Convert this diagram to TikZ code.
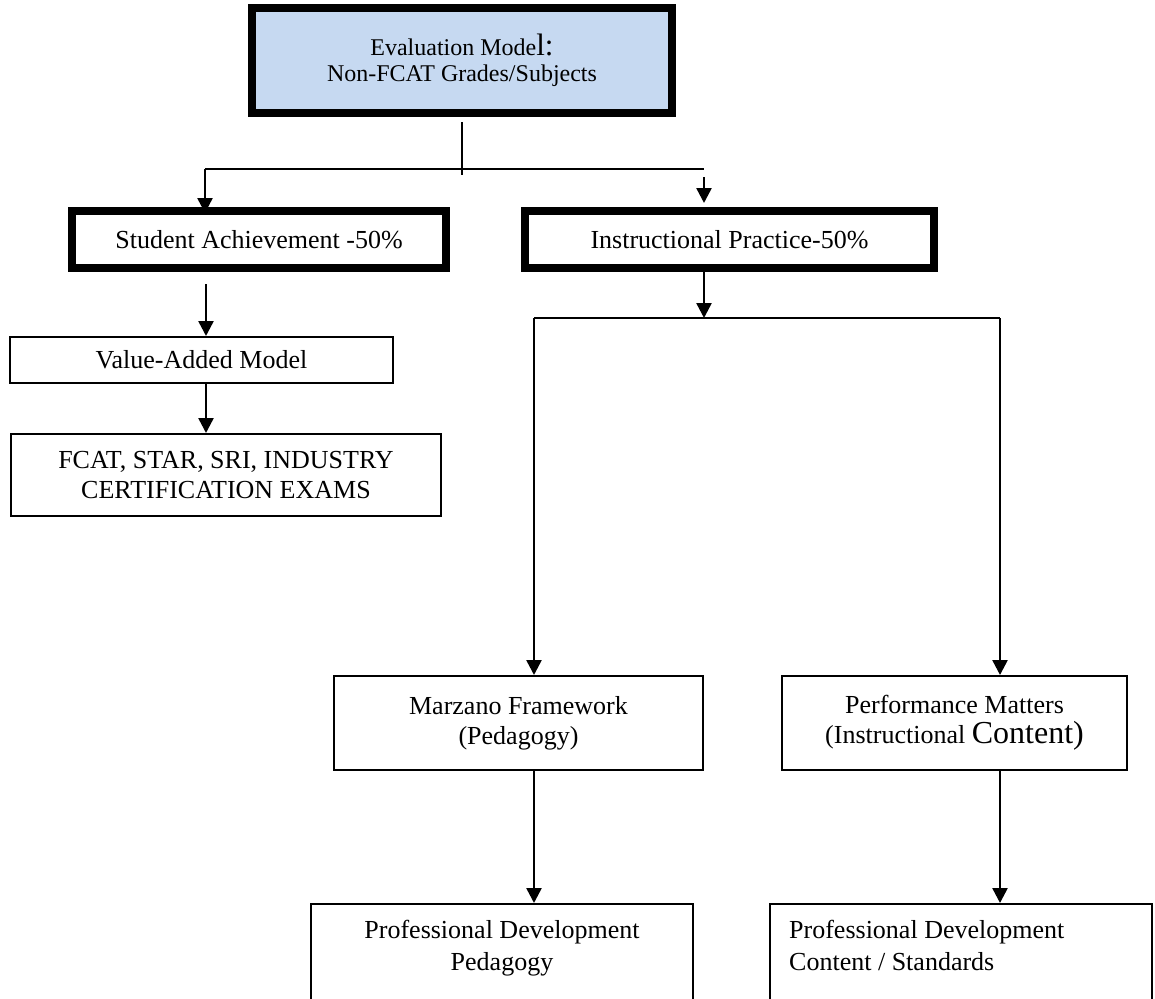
\documentclass[tikz,border=0pt]{standalone}
\usepackage{fontspec}
\setmainfont{Liberation Serif}
\usepackage{tikz}
\usetikzlibrary{calc, arrows.meta}
\definecolor{boxblue}{RGB}{198,217,241}

\begin{document}
\begin{tikzpicture}[x=1pt, y=-1pt,
    fatbox/.style={draw, line width=8pt, inner sep=0pt, align=center, font=\fontsize{26}{30}\selectfont},
    slimbox/.style={draw, line width=2pt, inner sep=0pt, align=center, font=\fontsize{26}{30}\selectfont},
    pdtext/.style={inner sep=0pt, font=\fontsize{26}{32}\selectfont},
    link/.style={line width=1.6pt},
    arrowlink/.style={line width=2.5pt, -{Triangle[width=15pt,length=15pt]}}]
  \useasboundingbox (0,0) rectangle (1155,998);
  \clip (0,0) rectangle (1155,998);

  \node[fatbox, fill=boxblue, minimum width=420pt, minimum height=105pt, font=\fontsize{24}{26}\selectfont] (model) at (462,60.5) {Evaluation Mode{\fontsize{31}{26}\selectfont l:}\\Non-FCAT Grades/Subjects};
  \node[fatbox, minimum width=374pt, minimum height=57pt] (achieve) at (259,239.5) {Student Achievement -50\%};
  \node[fatbox, minimum width=409pt, minimum height=57pt] (practice) at (729.5,239.5) {Instructional Practice-50\%};
  \node[slimbox, minimum width=383pt, minimum height=46pt] (vam) at (201.5,360) {Value-Added Model};
  \node[slimbox, minimum width=430pt, minimum height=82pt] (exams) at (226,475) {FCAT, STAR, SRI, INDUSTRY\\CERTIFICATION EXAMS};
  \node[slimbox, minimum width=369pt, minimum height=94pt] (marzano) at (518.5,723) {Marzano Framework\\(Pedagogy)};
  \node[slimbox, minimum width=345pt, minimum height=94pt] (perf) at (954.5,723) {Performance Matters\\(Instructional {\fontsize{32}{30}\selectfont Content)}};
  \node[slimbox, minimum width=382pt, minimum height=200pt] (pdleft) at (502,1004) {};
  \node[slimbox, minimum width=382pt, minimum height=200pt] (pdright) at (961,1004) {};
  \node[pdtext, anchor=north, align=center] (pdlefttext) at ($(pdleft.north)+(0,17)$) {Professional Development\\Pedagogy};
  \node[pdtext, anchor=north west, align=left] (pdrighttext) at ($(pdright.north west)+(20,17)$) {Professional Development\\Content / Standards};

  \coordinate (stem) at (462,122);
  \coordinate (stemend) at (462,175);
  \coordinate (splitleft) at (205,169);
  \coordinate (splitright) at (704,169);
  \coordinate (practicein) at (704,177);
  \coordinate (acol) at (206,0);
  \coordinate (forkmid) at (704,318);
  \coordinate (forkleft) at (534,318);
  \coordinate (forkright) at (1000,318);

  \draw[link] (stem) -- (stemend);
  \draw[link] (splitleft) -- (splitright);
  \draw[arrowlink, shorten >=-6pt] (splitleft) -- (splitleft |- achieve.north);
  \draw[arrowlink, shorten >=4pt] (practicein) -- (practicein |- practice.north);
  \draw[arrowlink] ($(achieve.south -| acol)+(0,12)$) -- (vam.north -| acol);
  \draw[arrowlink] (vam.south -| acol) -- (exams.north -| acol);
  \draw[arrowlink] (practice.south -| forkmid) -- (forkmid);
  \draw[link] (forkleft) -- (forkright);
  \draw[arrowlink] (forkleft) -- (forkleft |- marzano.north);
  \draw[arrowlink] (forkright) -- (forkright |- perf.north);
  \draw[arrowlink] (marzano.south -| forkleft) -- (forkleft |- pdleft.north);
  \draw[arrowlink] (perf.south -| forkright) -- (forkright |- pdright.north);
\end{tikzpicture}
\end{document}
